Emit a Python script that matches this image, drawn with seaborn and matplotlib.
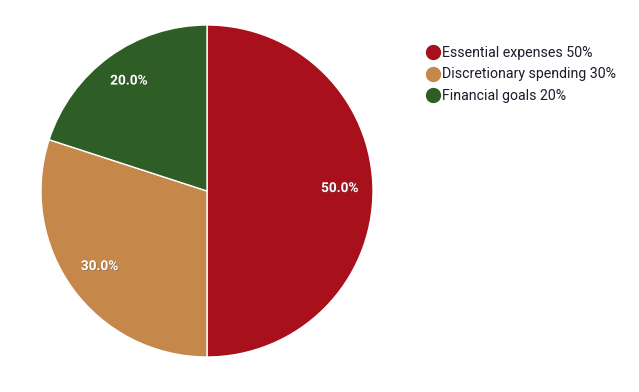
import matplotlib
matplotlib.use("Agg")
import matplotlib.pyplot as plt
import matplotlib.patheffects as pe
import matplotlib.transforms as mtransforms
from matplotlib.lines import Line2D
import seaborn as sns

categories = ["Essential expenses 50%", "Discretionary spending 30%", "Financial goals 20%"]
shares = [50, 30, 20]
colors = ["#a8101c", "#c5874a", "#2e5e26"]

sns.set_theme(style="white")
plt.rcParams["font.family"] = ["Roboto", "DejaVu Sans"]

fig = plt.figure(figsize=(6.39, 3.92), dpi=100)
# center ~ (207, 191) px, radius ~ 166 px
r = 166
ax = fig.add_axes([(207 - r) / 639, (392 - 191 - r) / 392, 2 * r / 639, 2 * r / 392])

wedges, texts, autotexts = ax.pie(
    shares,
    colors=colors,
    startangle=90,
    counterclock=False,
    autopct="%1.1f%%",
    pctdistance=0.8,
    wedgeprops={"edgecolor": "white", "linewidth": 1},
    textprops={"color": "white", "fontsize": 9.8, "fontweight": "bold"},
)
# labels sit a touch higher in the original
nudge = mtransforms.ScaledTranslation(0, 3 / 100, fig.dpi_scale_trans)
for t in autotexts:
    t.set_transform(t.get_transform() + nudge)
    t.set_path_effects([pe.withSimplePatchShadow(offset=(0.6, -0.6), alpha=0.4)])
ax.set_xlim(-1, 1)
ax.set_ylim(-1, 1)
ax.set_aspect("equal")
ax.axis("off")

handles = [Line2D([0], [0], marker="o", linestyle="", markersize=10,
                  markerfacecolor=c, markeredgecolor=c) for c in colors]
fig.legend(handles, categories, loc="upper left", bbox_to_anchor=(419 / 639, 1 - 40 / 392),
           frameon=False, fontsize=10.2, handletextpad=0.0, labelspacing=0.55,
           borderaxespad=0, handlelength=1.2, labelcolor="#1c1c2c")

fig.savefig("out.png", dpi=100)
